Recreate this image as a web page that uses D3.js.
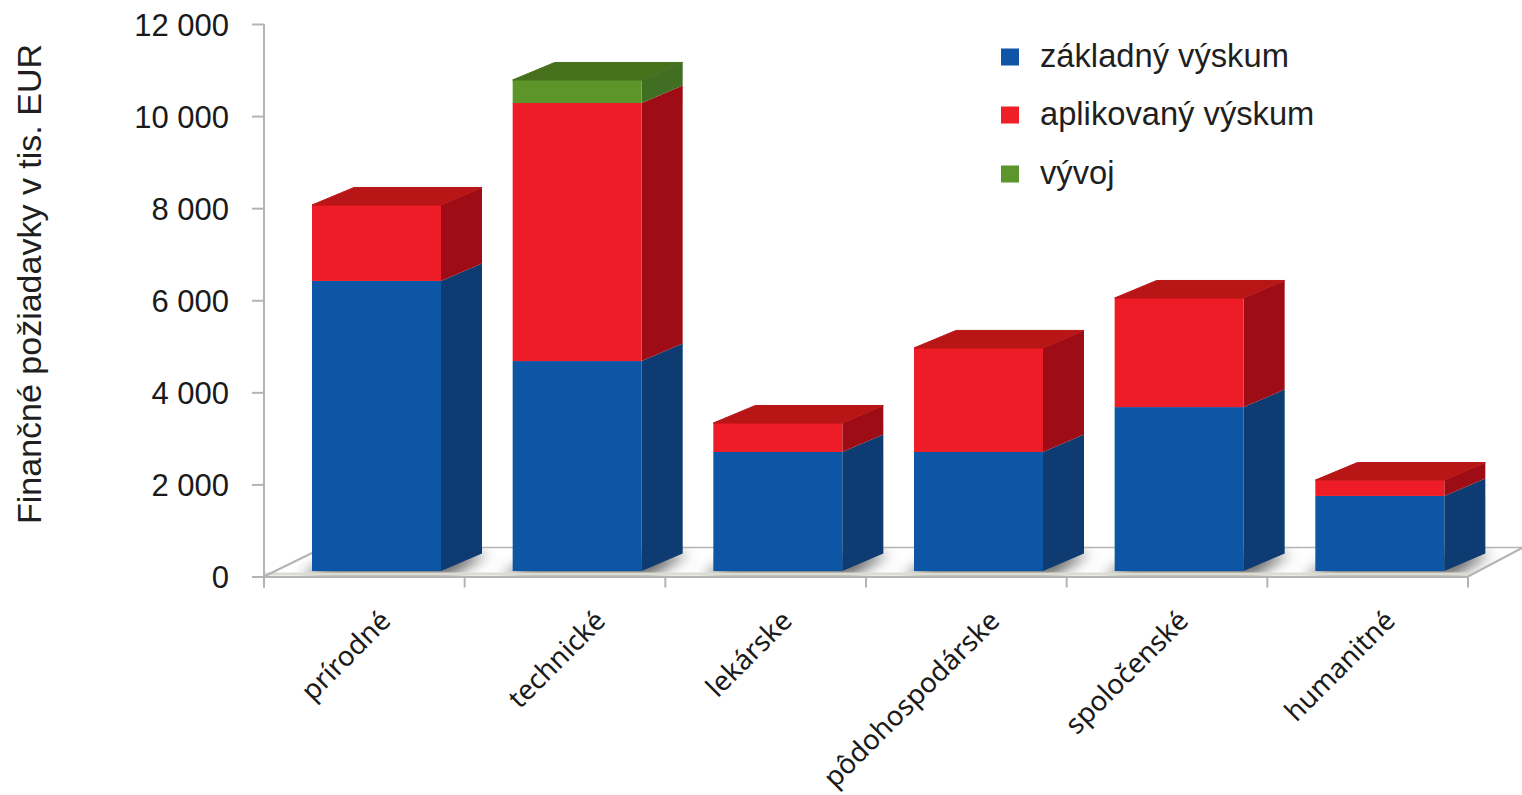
<!DOCTYPE html>
<html>
<head>
<meta charset="utf-8">
<script src="https://cdn.jsdelivr.net/npm/d3@7"></script>
<style>
  html, body { margin: 0; background: #fff; }
  svg { display: block; }
  text { font-family: "Liberation Sans", Arial, sans-serif; fill: #1f1f1f; }
  .axis path, .axis line { stroke: #b4b4b4; stroke-width: 2px; fill: none; }
  .y-axis text { font-size: 31px; fill: #1a1a1a; }
  .x-axis text { font-family: "Noto Sans", sans-serif; font-size: 27.6px; fill: #1a1a1a; }
</style>
</head>
<body>
<svg id="chart" width="1522" height="795"></svg>
<script>
const categories = ['prírodné', 'technické', 'lekárske', 'pôdohospodárske', 'spoločenské', 'humanitné'];
const zakladny   = [6300, 4560, 2585, 2585, 3560, 1630];
const aplikovany = [1650, 5605, 630, 2260, 2370, 345];
const vyvoj      = [0, 500, 0, 0, 0, 0];
const yTicks     = [0, 2000, 4000, 6000, 8000, 10000, 12000];

const seriesNames = ['základný výskum', 'aplikovaný výskum', 'vývoj'];
const front = ['#0f54a5', '#ee1f25', '#5b952c'];
const side  = ['#0a3a72', '#9e1015', '#3f6e20'];
const top_  = ['#0c4585', '#b81519', '#47701f'];

const svg = d3.select('#chart');
const axisLeft = 264, axisRight = 1468, axisBase = 576.5, axisTop = 24;
const depthX = 41, depthY = 17.5, lift = 5.5;

const x = d3.scaleBand().domain(categories).range([axisLeft, axisRight]);
const y = d3.scaleLinear().domain([0, 12000]).range([axisBase, axisTop]);
const barInset = 48, barW = 129;

// the rotated labels are not evenly placed in the original
const labelShift = [-5, 9, -5, 2, -10, -4];

const fmt = d3.formatLocale({ thousands: ' ', grouping: [3], decimal: ',', currency: ['', ''] }).format(',');

// defs
const defs = svg.append('defs');
defs.append('filter').attr('id', 'blur').attr('x', '-30%').attr('y', '-100%').attr('width', '160%').attr('height', '300%')
  .append('feGaussianBlur').attr('stdDeviation', 7);
defs.append('filter').attr('id', 'soft').append('feGaussianBlur').attr('stdDeviation', 0.5);
defs.append('clipPath').attr('id', 'floorClip')
  .append('polygon').attr('points', `${axisLeft},${axisBase} ${axisLeft + 48},548 1522,548 ${axisRight},${axisBase}`);

// floor
const line = d3.line();
const floor = svg.append('g');
const shadows = floor.append('g').attr('clip-path', 'url(#floorClip)');
shadows.selectAll('polygon').data(categories).join('polygon')
  .attr('points', d => {
    const x0 = x(d) + barInset;
    return [[x0 - 12, axisBase], [x0 + barW + 10, axisBase], [x0 + barW + depthX + 6, axisBase - lift - depthY], [x0 + depthX - 12, axisBase - lift - depthY]].join(' ');
  })
  .attr('fill', '#666')
  .attr('filter', 'url(#blur)');
floor.append('path')
  .attr('d', line([[axisLeft, axisBase - 2.5], [axisRight, axisBase - 2.5]]))
  .attr('stroke', '#dcdcd2').attr('stroke-width', 3).attr('fill', 'none');
floor.append('path')
  .attr('d', line([[axisLeft, axisBase], [axisLeft + 48, 553]]))
  .attr('stroke', '#b4b4b4').attr('stroke-width', 2).attr('fill', 'none');
floor.append('path')
  .attr('d', line([[axisRight, axisBase], [1522, 548]]))
  .attr('stroke', '#b4b4b4').attr('stroke-width', 2).attr('fill', 'none');
floor.append('path')
  .attr('d', line([[axisLeft + 60, 547.5], [1522, 547.5]]))
  .attr('stroke', '#b4b4b4').attr('stroke-width', 1.5).attr('fill', 'none');

// bars, stacked from the floor
const stackData = categories.map((c, i) => ({ cat: c, v0: zakladny[i], v1: aplikovany[i], v2: vyvoj[i] }));
const stack = d3.stack().keys(['v0', 'v1', 'v2'])(stackData);

const bars = svg.append('g').attr('class', 'bars');
stack.forEach((layer, si) => {
  const g = bars.append('g');
  const segs = layer.map(s => ({ cat: s.data.cat, y0: y(s[0]) - lift, y1: y(s[1]) - lift, h: s[1] - s[0] })).filter(s => s.h > 0);

  g.selectAll('.side').data(segs).join('polygon').attr('class', 'side')
    .attr('fill', side[si])
    .attr('points', d => {
      const r = x(d.cat) + barInset + barW;
      return [[r, d.y0], [r, d.y1], [r + depthX, d.y1 - depthY], [r + depthX, d.y0 - depthY]].join(' ');
    });

  g.selectAll('.front').data(segs).join('rect').attr('class', 'front')
    .attr('x', d => x(d.cat) + barInset)
    .attr('y', d => d.y1)
    .attr('width', barW)
    .attr('height', d => d.y0 - d.y1)
    .attr('fill', front[si]);
});

// roof of every bar takes the colour of its uppermost segment
const roofs = stackData.map(d => {
  const si = d.v2 > 0 ? 2 : (d.v1 > 0 ? 1 : 0);
  return { cat: d.cat, si, yTop: y(d.v0 + d.v1 + d.v2) - lift };
});
bars.append('g').selectAll('polygon').data(roofs).join('polygon')
  .attr('fill', d => top_[d.si])
  .attr('stroke', d => top_[d.si])
  .attr('stroke-width', 1)
  .attr('stroke-linejoin', 'round')
  .attr('points', d => {
    const l = x(d.cat) + barInset;
    return [[l, d.yTop], [l + barW, d.yTop], [l + barW + depthX, d.yTop - depthY], [l + depthX + 1, d.yTop - depthY]].join(' ');
  });
bars.attr('filter', 'url(#soft)');

// axes
const yAxisG = svg.append('g').attr('class', 'axis y-axis')
  .attr('transform', `translate(${axisLeft},0)`)
  .call(d3.axisLeft(y).tickValues(yTicks).tickFormat(fmt).tickSize(12).tickSizeOuter(0));
yAxisG.selectAll('text').attr('x', -35).attr('dy', '0.36em');
yAxisG.select('.domain').attr('d', `M0,${axisTop}V${axisBase + 11}`);

const xAxisG = svg.append('g').attr('class', 'axis x-axis')
  .attr('transform', `translate(0,${axisBase})`)
  .call(d3.axisBottom(x).tickSize(0).tickSizeOuter(0));
xAxisG.selectAll('.tick text')
  .attr('text-anchor', 'end')
  .attr('x', 0).attr('y', 0).attr('dy', 0)
  .attr('transform', (d, i) => `translate(${33 + labelShift[i]},46) rotate(-45)`);

// separators between categories
xAxisG.append('g').selectAll('line').data(categories.concat(['end'])).join('line')
  .attr('x1', (d, i) => axisLeft + i * x.step())
  .attr('x2', (d, i) => axisLeft + i * x.step())
  .attr('y1', 0).attr('y2', 11);

// y title
svg.append('text')
  .attr('transform', 'translate(41,284) rotate(-90)')
  .attr('text-anchor', 'middle')
  .attr('font-size', 34)
  .attr('fill', '#1a1a1a')
  .text('Finančné požiadavky v tis. EUR');

// legend
const legendY = [57.5, 115.5, 174.5];
const legend = svg.append('g').selectAll('g').data(seriesNames).join('g')
  .attr('transform', (d, i) => `translate(1001,${legendY[i]})`);
legend.append('rect').attr('x', 0).attr('y', -9).attr('width', 18).attr('height', 17)
  .attr('fill', (d, i) => front[i]);
legend.append('text').attr('x', 39).attr('y', 9)
  .attr('font-size', 32.7).attr('fill', '#2a2a2a')
  .text(d => d);
</script>
</body>
</html>
